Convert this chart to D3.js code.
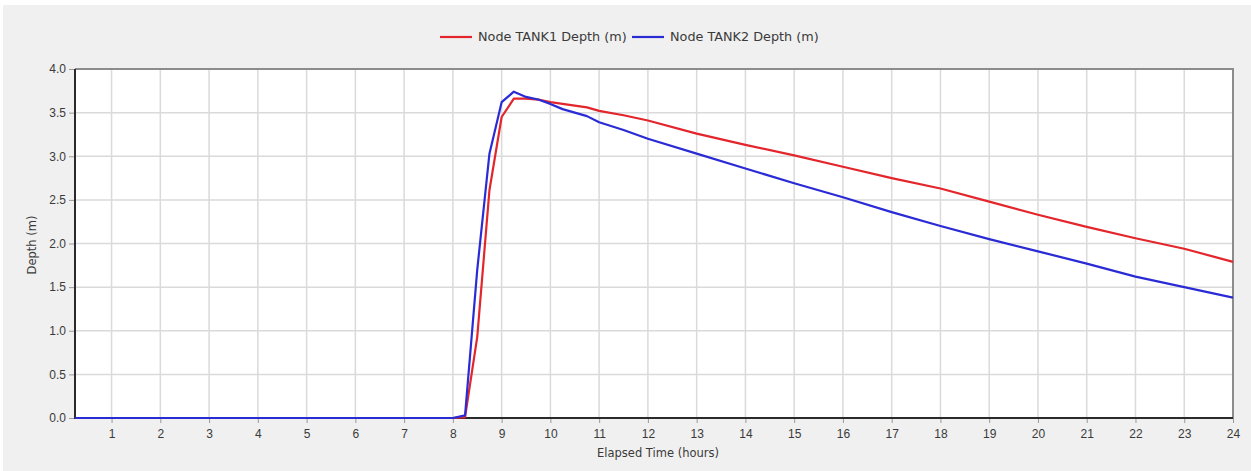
<!DOCTYPE html>
<html>
<head>
<meta charset="utf-8">
<script src="https://cdn.jsdelivr.net/npm/d3@7"></script>
<style>
  body { margin: 0; background: #fff; }
  text { font-family: "Liberation Sans", Arial, sans-serif; }
  .wide { font-family: "DejaVu Sans", Verdana, sans-serif; }
</style>
</head>
<body>
<div id="chart"></div>
<script>
// elapsed time (hours) of each reading
var times = [0.25, 8.0, 8.25, 8.5, 8.75, 9.0, 9.25, 9.5, 9.75, 10.0, 10.25, 10.5, 10.75, 11.0, 11.5, 12,
    13, 14, 15, 16, 17, 18, 19, 20, 21, 22, 23, 24];
var tank1 = [0, 0, 0.01, 0.93, 2.61, 3.45, 3.66, 3.66, 3.65, 3.62, 3.60, 3.58, 3.56, 3.52, 3.47, 3.41,
    3.26, 3.13, 3.01, 2.88, 2.75, 2.63, 2.48, 2.33, 2.19, 2.06, 1.94, 1.79];
var tank2 = [0, 0, 0.03, 1.70, 3.03, 3.62, 3.74, 3.68, 3.65, 3.60, 3.54, 3.50, 3.46, 3.39, 3.30, 3.20,
    3.03, 2.86, 2.69, 2.53, 2.36, 2.20, 2.05, 1.91, 1.77, 1.62, 1.50, 1.38];
var seriesNames = ["Node TANK1 Depth (m)", "Node TANK2 Depth (m)"];
var seriesColors = ["#e3262b", "#2b2bd6"];
var xTicks = d3.range(1, 25);
var yTicks = [0, 0.5, 1, 1.5, 2, 2.5, 3, 3.5, 4];

function init() {
    var w = 1251;
    var h = 471;
    var left = 75, right = 1233, top = 69, bottom = 418;

    var svg = d3.select("#chart")
        .append("svg")
        .attr("width", w)
        .attr("height", h);

    // grey panel
    svg.append("rect")
        .attr("x", 3).attr("y", 5)
        .attr("width", w - 3).attr("height", h - 5)
        .attr("fill", "#f0f0f0");

    var xScale = d3.scaleLinear()
        .domain([0.25, 24])
        .range([left, right]);

    var yScale = d3.scaleLinear()
        .domain([0, 4])
        .range([bottom, top]);

    svg.append("rect")
        .attr("x", left).attr("y", top)
        .attr("width", right - left).attr("height", bottom - top)
        .attr("fill", "#fff");

    // grid
    svg.selectAll(".vgrid")
        .data(xTicks)
        .enter()
        .append("line")
        .attr("class", "vgrid")
        .attr("x1", function (d) { return xScale(d); })
        .attr("x2", function (d) { return xScale(d); })
        .attr("y1", top).attr("y2", bottom)
        .attr("stroke", "#dadada")
        .attr("stroke-width", 1.5);

    svg.selectAll(".hgrid")
        .data(yTicks)
        .enter()
        .append("line")
        .attr("class", "hgrid")
        .attr("x1", left).attr("x2", right)
        .attr("y1", function (d) { return yScale(d); })
        .attr("y2", function (d) { return yScale(d); })
        .attr("stroke", "#dadada")
        .attr("stroke-width", 1.5);

    // top and right frame
    svg.append("path")
        .attr("d", "M" + left + "," + top + "H" + right + "V" + bottom)
        .attr("fill", "none")
        .attr("stroke", "#8c8c8c")
        .attr("stroke-width", 2);

    // axes
    var xAxis = d3.axisBottom(xScale)
        .tickValues(xTicks)
        .tickFormat(d3.format("d"))
        .tickSize(5)
        .tickPadding(6);

    var yAxis = d3.axisLeft(yScale)
        .tickValues(yTicks)
        .tickFormat(d3.format(".1f"))
        .tickSize(6)
        .tickPadding(3);

    var gx = svg.append("g")
        .attr("transform", "translate(0," + bottom + ")")
        .call(xAxis);

    var gy = svg.append("g")
        .attr("transform", "translate(" + left + ",0)")
        .call(yAxis);

    [gx, gy].forEach(function (g) {
        g.select(".domain").remove();
        g.selectAll(".tick line").attr("stroke", "#9a9a9a");
        g.selectAll(".tick text")
            .attr("fill", "#3a3a3a")
            .style("font-size", "12px");
    });

    // left and bottom axis lines (series are drawn over them)
    svg.append("path")
        .attr("d", "M" + left + "," + top + "V" + bottom + "H" + right)
        .attr("fill", "none")
        .attr("stroke", "#2a2a2a")
        .attr("stroke-width", 2);

    // lines
    var allSeries = [tank1, tank2];
    var line = d3.line()
        .x(function (d, i) { return xScale(times[i]); })
        .y(function (d) { return yScale(d); });

    svg.selectAll(".series")
        .data(allSeries)
        .enter()
        .append("path")
        .attr("class", "series")
        .attr("d", function (d) { return line(d); })
        .attr("fill", "none")
        .attr("stroke", function (d, i) { return seriesColors[i]; })
        .attr("stroke-width", 2.2)
        .attr("stroke-linejoin", "round");

    // axis titles
    svg.append("text")
        .attr("class", "wide")
        .attr("x", 658)
        .attr("y", 457)
        .attr("text-anchor", "middle")
        .attr("fill", "#3a3a3a")
        .style("font-size", "11.5px")
        .text("Elapsed Time (hours)");

    svg.append("text")
        .attr("class", "wide")
        .attr("transform", "translate(36,245) rotate(-90)")
        .attr("text-anchor", "middle")
        .attr("fill", "#3a3a3a")
        .style("font-size", "11.5px")
        .text("Depth (m)");

    // legend
    var legendX = [440, 632];
    var legend = svg.selectAll(".legend")
        .data(seriesNames)
        .enter()
        .append("g")
        .attr("class", "legend")
        .attr("transform", function (d, i) { return "translate(" + legendX[i] + ",37)"; });

    legend.append("line")
        .attr("x1", 0).attr("x2", 32)
        .attr("stroke", function (d, i) { return seriesColors[i]; })
        .attr("stroke-width", 2.2);

    legend.append("text")
        .attr("class", "wide")
        .attr("x", 38)
        .attr("y", 4)
        .attr("fill", "#3a3a3a")
        .style("font-size", "12.8px")
        .text(function (d) { return d; });
}

window.onload = init;
</script>
</body>
</html>
